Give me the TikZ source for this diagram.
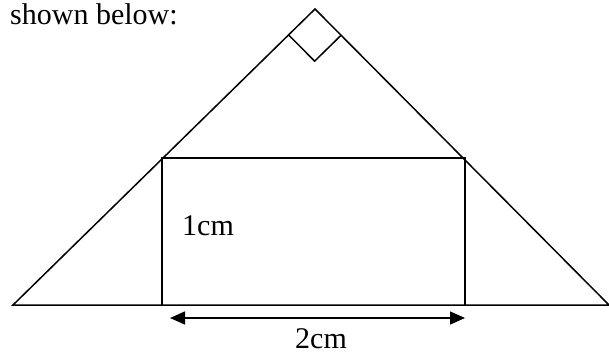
\documentclass[tikz,border=0pt]{standalone}
\usepackage{fontspec}
\setmainfont{Liberation Serif}
\usetikzlibrary{arrows.meta,calc}
\tikzset{
  edge/.style={line width=1.5pt, line join=miter},
  label/.style={font=\fontsize{30}{36}\selectfont, inner sep=0pt},
  dim/.style={line width=1.5pt, {Triangle[length=15pt,width=13pt]}-{Triangle[length=15pt,width=13pt]}}
}
\begin{document}
\begin{tikzpicture}[x=1pt, y=-1pt]
  \useasboundingbox (0,0) rectangle (609,354);
  \node[label, anchor=base west] (caption) at (10,24) {shown below:};
  % triangle
  \coordinate (A) at (13,305);
  \coordinate (B) at (609,305);
  \coordinate (C) at (315,9);
  \draw[edge] (A) -- (C) -- (B) -- cycle;
  % right angle mark
  \coordinate (ml) at ($(C)!37pt!(A)$);
  \coordinate (mr) at ($(C)!37pt!(B)$);
  \draw[edge] (ml) -- ($(ml)+(mr)-(C)$) -- (mr);
  % rectangle
  \coordinate (P) at (162,305);
  \coordinate (Q) at (465,305);
  \coordinate (R) at (465,158);
  \coordinate (S) at (162,158);
  \draw[edge] (P) -- (S) -- (R) -- (Q);
  \node[label, anchor=base west] (h) at (182,235) {1cm};
  % width
  \coordinate (d1) at (170,318);
  \coordinate (d2) at (465,318);
  \draw[dim] (d1) -- (d2);
  \node[label, anchor=base] (w) at (321,348) {2cm};
\end{tikzpicture}
\end{document}
